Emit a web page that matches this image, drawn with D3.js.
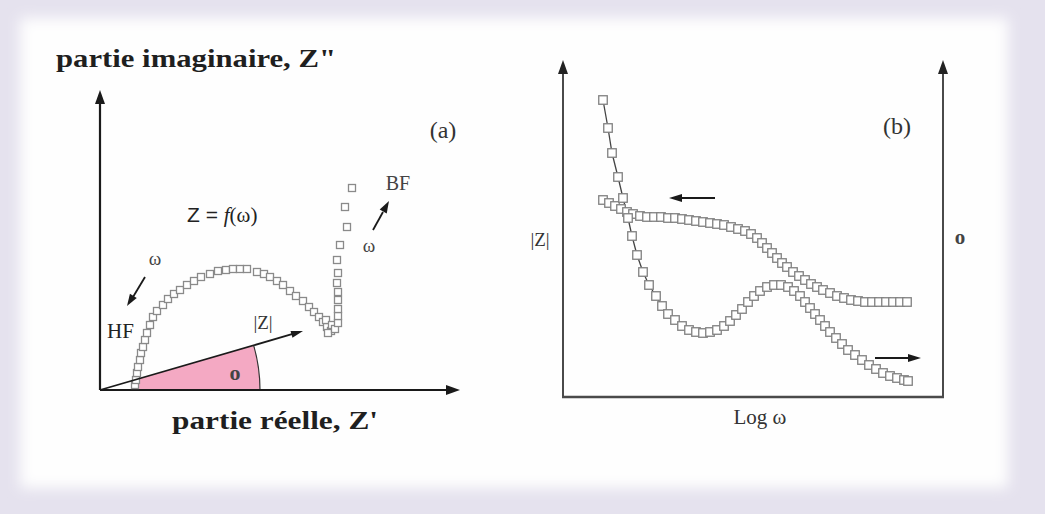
<!DOCTYPE html>
<html>
<head>
<meta charset="utf-8">
<script src="https://cdn.jsdelivr.net/npm/d3@7"></script>
<style>
  body { margin: 0; background: #e5e2ee; }
  svg { display: block; }
</style>
</head>
<body>
<script>
// Nyquist plot (a): Z' (real) and Z'' (imaginary), arbitrary units
var nyqRe = [3.5, 3.6, 3.7, 3.8, 4.0, 4.1, 4.3, 4.5, 4.7, 5.0, 5.3, 5.7, 6.3, 6.8, 7.4, 8.0, 8.7, 9.4, 10.1, 11.0,
             11.8, 12.6, 13.3, 14.0, 14.7, 15.7, 16.4, 17.0, 17.7, 18.3, 19.0, 19.6, 20.3, 20.9, 21.4, 21.9, 22.3, 22.7,
             23.1, 22.6, 23.2, 22.8, 23.5, 23.8, 23.8, 23.8, 23.8, 23.8, 23.7, 23.8, 23.7, 24.0, 24.7, 24.5, 25.2];
var nyqIm = [0.5, 1.0, 1.7, 2.3, 3.0, 3.7, 4.3, 5.0, 5.7, 6.5, 7.3, 7.9, 8.5, 9.1, 9.6, 10.0, 10.5, 10.9, 11.3, 11.6,
             11.9, 12.0, 12.1, 12.1, 12.1, 11.8, 11.6, 11.3, 10.9, 10.5, 9.9, 9.4, 8.9, 8.3, 7.8, 7.3, 6.8, 6.3,
             5.9, 7.0, 6.5, 5.7, 6.1, 6.7, 7.4, 8.1, 9.0, 9.8, 10.7, 11.7, 13.0, 14.5, 16.3, 18.3, 20.2];
var zVector = [20.3, 5.9];     // end of the |Z| vector
var phiAngle = 16.2;           // degrees

// Bode plot (b): log w, |Z| and phase
var bodeLogW = [4.0, 4.6, 5.2, 5.8, 6.4, 7.0, 7.7, 8.4, 9.1, 9.8, 10.5, 11.2, 11.9, 12.6, 13.3, 14.0, 14.7, 15.4,
                16.1, 16.8, 17.5, 18.2, 18.8, 19.4, 19.9, 20.4, 20.9, 21.4, 21.9, 22.4, 23.0, 23.6, 24.2, 24.8, 25.4,
                26.0, 26.7, 27.4, 28.1, 28.8, 29.5, 30.2, 30.9, 31.6, 32.3, 33.0, 33.7, 34.4];
var bodeModZ = [19.7, 19.4, 19.1, 18.8, 18.5, 18.3, 18.1, 18.0, 18.0, 18.0, 17.9, 17.9, 17.8, 17.7, 17.6, 17.5, 17.4,
                17.3, 17.2, 17.0, 16.8, 16.6, 16.3, 15.9, 15.4, 14.9, 14.4, 13.9, 13.4, 13.0, 12.5, 12.1, 11.7, 11.3,
                11.0, 10.7, 10.4, 10.1, 9.9, 9.7, 9.6, 9.5, 9.5, 9.5, 9.5, 9.5, 9.5, 9.5];
var phaseLogW = [4.0, 4.5, 4.9, 5.5, 6.0, 6.5, 6.9, 7.4, 8.0, 8.6, 9.3, 9.9, 10.5, 11.2, 11.9, 12.6, 13.3, 14.0,
                 14.7, 15.4, 16.1, 16.7, 17.3, 17.9, 18.5, 19.1, 19.7, 20.4, 21.1, 21.8, 22.5, 23.1, 23.7, 24.2, 24.7,
                 25.2, 25.7, 26.2, 26.7, 27.3, 27.9, 28.5, 29.2, 29.9, 30.6, 31.3, 32.0, 32.7, 33.4, 34.1, 34.5];
var phaseVal = [29.7, 26.9, 24.4, 22.0, 19.9, 17.9, 16.1, 14.2, 12.5, 11.2, 10.1, 9.1, 8.3, 7.7, 7.1, 6.7, 6.5, 6.4,
                6.5, 6.7, 7.1, 7.6, 8.2, 8.8, 9.5, 10.1, 10.6, 11.0, 11.2, 11.2, 11.0, 10.6, 10.1, 9.5, 8.9,
                8.3, 7.7, 7.1, 6.5, 5.9, 5.3, 4.7, 4.2, 3.7, 3.2, 2.8, 2.4, 2.1, 1.9, 1.7, 1.6];

var W = 1045, H = 514;
var serif = "'Liberation Serif', 'DejaVu Serif', serif";

var svg = d3.select("body").append("svg")
  .attr("width", W)
  .attr("height", H);

// soft white panel on lavender background
var defs = svg.append("defs");
defs.append("filter").attr("id", "blur")
  .attr("x", "-5%").attr("y", "-5%").attr("width", "110%").attr("height", "110%")
  .append("feGaussianBlur").attr("stdDeviation", 7);
defs.append("filter").attr("id", "soft")
  .append("feGaussianBlur").attr("stdDeviation", 0.5);
svg.append("rect").attr("width", W).attr("height", H).attr("fill", "#e5e2ee");
svg.append("rect")
  .attr("x", 20).attr("y", 18).attr("width", 988).attr("height", 470)
  .attr("fill", "#fefefe").attr("filter", "url(#blur)");

function arrowHead(g, x, y, angle, len, wid, color) {
  // triangle pointing along angle (radians), tip at (x,y)
  var bx = x - len * Math.cos(angle), by = y - len * Math.sin(angle);
  var px = -Math.sin(angle) * wid / 2, py = Math.cos(angle) * wid / 2;
  g.append("path")
    .attr("d", "M" + x + "," + y + "L" + (bx + px) + "," + (by + py) + "L" + (bx - px) + "," + (by - py) + "Z")
    .attr("fill", color);
}

function squares(g, data, size, stroke) {
  g.append("g").attr("filter", "url(#soft)")
    .selectAll(null)
    .data(data)
    .enter()
    .append("rect")
      .attr("x", function(d) { return d[0] - size / 2; })
      .attr("y", function(d) { return d[1] - size / 2; })
      .attr("width", size)
      .attr("height", size)
      .attr("fill", "#fff")
      .attr("stroke", stroke)
      .attr("stroke-width", 1.3);
}

// ---------------- panel (a) ----------------
var xa = d3.scaleLinear().domain([0, 35.8]).range([100, 458]);
var ya = d3.scaleLinear().domain([0, 29.8]).range([390, 92]);
var ga = svg.append("g");

// pink phase sector
var r = 160, a = phiAngle * Math.PI / 180;
ga.append("path")
  .attr("transform", "translate(" + xa(0) + "," + ya(0) + ")")
  .attr("d", d3.arc()({innerRadius: 38, outerRadius: r, startAngle: Math.PI / 2 - a, endAngle: Math.PI / 2}))
  .attr("fill", "#f4a9c3");
ga.append("path")
  .attr("transform", "translate(" + xa(0) + "," + ya(0) + ")")
  .attr("d", d3.arc()({innerRadius: r, outerRadius: r, startAngle: Math.PI / 2 - a, endAngle: Math.PI / 2}))
  .attr("fill", "none").attr("stroke", "#333").attr("stroke-width", 1.2);

// axes
ga.append("line").attr("x1", xa(0)).attr("y1", ya(0)).attr("x2", xa(0)).attr("y2", 100)
  .attr("stroke", "#1a1a1a").attr("stroke-width", 2.2);
arrowHead(ga, xa(0), 90, -Math.PI / 2, 14, 10, "#1a1a1a");
ga.append("line").attr("x1", xa(0)).attr("y1", ya(0)).attr("x2", 448).attr("y2", ya(0))
  .attr("stroke", "#1a1a1a").attr("stroke-width", 2.2);
arrowHead(ga, 460, ya(0), 0, 14, 10, "#1a1a1a");

// Nyquist points
var nyq = nyqRe.map(function(v, i) { return [xa(v), ya(nyqIm[i])]; });
squares(ga, nyq, 7, "#8a8a8a");

// |Z| vector
var vx = xa(zVector[0]), vy = ya(zVector[1]);
ga.append("line").attr("x1", xa(0)).attr("y1", ya(0)).attr("x2", vx - 6).attr("y2", vy + 1.7)
  .attr("stroke", "#1a1a1a").attr("stroke-width", 1.8);
arrowHead(ga, vx, vy, Math.atan2(vy - ya(0), vx - xa(0)), 12, 7, "#1a1a1a");

// small arrows HF / BF
ga.append("line").attr("x1", 145).attr("y1", 277).attr("x2", 133).attr("y2", 297)
  .attr("stroke", "#1a1a1a").attr("stroke-width", 1.8);
arrowHead(ga, 127, 306, Math.atan2(306 - 277, 127 - 145), 12, 8, "#1a1a1a");
ga.append("line").attr("x1", 373).attr("y1", 230).attr("x2", 383).attr("y2", 212)
  .attr("stroke", "#1a1a1a").attr("stroke-width", 1.8);
arrowHead(ga, 389, 201, Math.atan2(201 - 230, 389 - 373), 12, 8, "#1a1a1a");

// texts (a)
ga.append("text").attr("x", 56).attr("y", 67)
  .attr("font-family", serif).attr("font-weight", "bold").attr("font-size", 26)
  .attr("textLength", 280).attr("lengthAdjust", "spacingAndGlyphs").attr("fill", "#1f1f1f")
  .text("partie imaginaire, Z\"");
ga.append("text").attr("x", 172).attr("y", 429)
  .attr("font-family", serif).attr("font-weight", "bold").attr("font-size", 26)
  .attr("textLength", 206).attr("lengthAdjust", "spacingAndGlyphs").attr("fill", "#1f1f1f")
  .text("partie réelle, Z'");
ga.append("text").attr("x", 443).attr("y", 138).attr("text-anchor", "middle")
  .attr("font-family", serif).attr("font-size", 24).attr("fill", "#333").text("(a)");
var zf = ga.append("text").attr("x", 187).attr("y", 222)
  .attr("font-family", "'Liberation Sans', Arial, sans-serif").attr("font-size", 21).attr("fill", "#222");
zf.append("tspan").text("Z = ");
zf.append("tspan").attr("font-family", serif).attr("font-style", "italic").text("f");
zf.append("tspan").attr("font-family", serif).text("(ω)");
ga.append("text").attr("x", 155).attr("y", 265).attr("text-anchor", "middle")
  .attr("font-family", serif).attr("font-size", 19).attr("fill", "#444").text("ω");
ga.append("text").attr("x", 107).attr("y", 338)
  .attr("font-family", serif).attr("font-size", 21).attr("fill", "#222").text("HF");
ga.append("text").attr("x", 398).attr("y", 190).attr("text-anchor", "middle")
  .attr("font-family", serif).attr("font-size", 20).attr("fill", "#444").text("BF");
ga.append("text").attr("x", 369).attr("y", 252).attr("text-anchor", "middle")
  .attr("font-family", serif).attr("font-size", 19).attr("fill", "#444").text("ω");
ga.append("text").attr("x", 263).attr("y", 329).attr("text-anchor", "middle")
  .attr("font-family", serif).attr("font-size", 19).attr("fill", "#333").text("|Z|");
ga.append("text").attr("x", 235).attr("y", 380).attr("text-anchor", "middle")
  .attr("font-family", serif).attr("font-weight", "bold").attr("font-size", 22).attr("fill", "#444").text("o");

// ---------------- panel (b) ----------------
var xb = d3.scaleLinear().domain([0, 38]).range([563, 943]);
var yb = d3.scaleLinear().domain([0, 33.4]).range([397, 63]);
var gb = svg.append("g");

gb.append("line").attr("x1", xb(0)).attr("y1", yb(0)).attr("x2", xb(0)).attr("y2", 72)
  .attr("stroke", "#4a4a4a").attr("stroke-width", 2);
arrowHead(gb, xb(0), 60, -Math.PI / 2, 14, 10, "#222");
gb.append("line").attr("x1", xb(38)).attr("y1", yb(0)).attr("x2", xb(38)).attr("y2", 72)
  .attr("stroke", "#4a4a4a").attr("stroke-width", 2);
arrowHead(gb, xb(38), 60, -Math.PI / 2, 14, 10, "#222");
gb.append("line").attr("x1", xb(0) - 1).attr("y1", yb(0)).attr("x2", xb(38) + 1).attr("y2", yb(0))
  .attr("stroke", "#4a4a4a").attr("stroke-width", 2.4);

var phasePts = phaseLogW.map(function(v, i) { return [xb(v), yb(phaseVal[i])]; });
var modPts = bodeLogW.map(function(v, i) { return [xb(v), yb(bodeModZ[i])]; });

gb.append("path").attr("d", d3.line()(phasePts.slice(0, 14)))
  .attr("fill", "none").attr("stroke", "#444").attr("stroke-width", 1.3);
squares(gb, modPts, 8.5, "#808080");
squares(gb, phasePts, 8.5, "#808080");

// direction arrows
gb.append("line").attr("x1", 715).attr("y1", 198).attr("x2", 680).attr("y2", 198)
  .attr("stroke", "#1a1a1a").attr("stroke-width", 1.8);
arrowHead(gb, 669, 198, Math.PI, 13, 8, "#1a1a1a");
gb.append("line").attr("x1", 875).attr("y1", 358).attr("x2", 910).attr("y2", 358)
  .attr("stroke", "#1a1a1a").attr("stroke-width", 1.8);
arrowHead(gb, 921, 358, 0, 13, 8, "#1a1a1a");

gb.append("text").attr("x", 540).attr("y", 246).attr("text-anchor", "middle")
  .attr("font-family", serif).attr("font-size", 19).attr("fill", "#333").text("|Z|");
gb.append("text").attr("x", 960).attr("y", 244).attr("text-anchor", "middle")
  .attr("font-family", serif).attr("font-weight", "bold").attr("font-size", 21).attr("fill", "#444").text("o");
gb.append("text").attr("x", 897).attr("y", 134).attr("text-anchor", "middle")
  .attr("font-family", serif).attr("font-size", 24).attr("fill", "#333").text("(b)");
gb.append("text").attr("x", 760).attr("y", 424).attr("text-anchor", "middle")
  .attr("font-family", serif).attr("font-size", 21).attr("fill", "#333").text("Log ω");
</script>
</body>
</html>
